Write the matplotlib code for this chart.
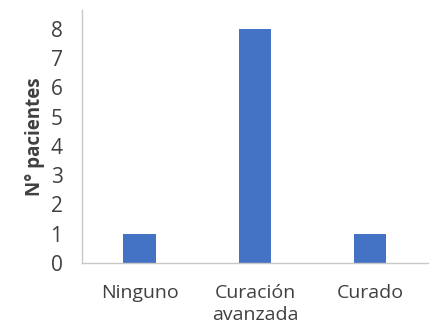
import matplotlib
matplotlib.use("Agg")
import matplotlib.pyplot as plt

categorias = ["Ninguno", "Curación\navanzada", "Curado"]
pacientes = [1, 8, 1]

plt.rcParams['font.family'] = ['Open Sans', 'DejaVu Sans']

fig = plt.figure(figsize=(4.43, 3.30), dpi=100)
ax = fig.add_axes([0.185, 0.203, 0.781, 0.767])

ax.bar(range(len(categorias)), pacientes, width=0.28, color='#4472C4')
ax.set_xlim(-0.5, 2.5)
ax.set_ylim(0, 8.65)
ax.set_yticks(range(0, 9))
ax.set_xticks(range(len(categorias)))
ax.set_xticklabels(categorias, fontsize=14, color='#404040', linespacing=1.3)
ax.tick_params(axis='y', labelsize=15, colors='#404040', length=0, pad=14)
ax.tick_params(axis='x', length=0, pad=15)

for side in ['top', 'right']:
    ax.spines[side].set_visible(False)
for side in ['left', 'bottom']:
    ax.spines[side].set_color('#c8c8c8')
    ax.spines[side].set_linewidth(1)

ax.set_ylabel('N° pacientes', fontsize=13.5, fontweight='bold', color='#404040', labelpad=4)

fig.savefig('out.png', dpi=100)
